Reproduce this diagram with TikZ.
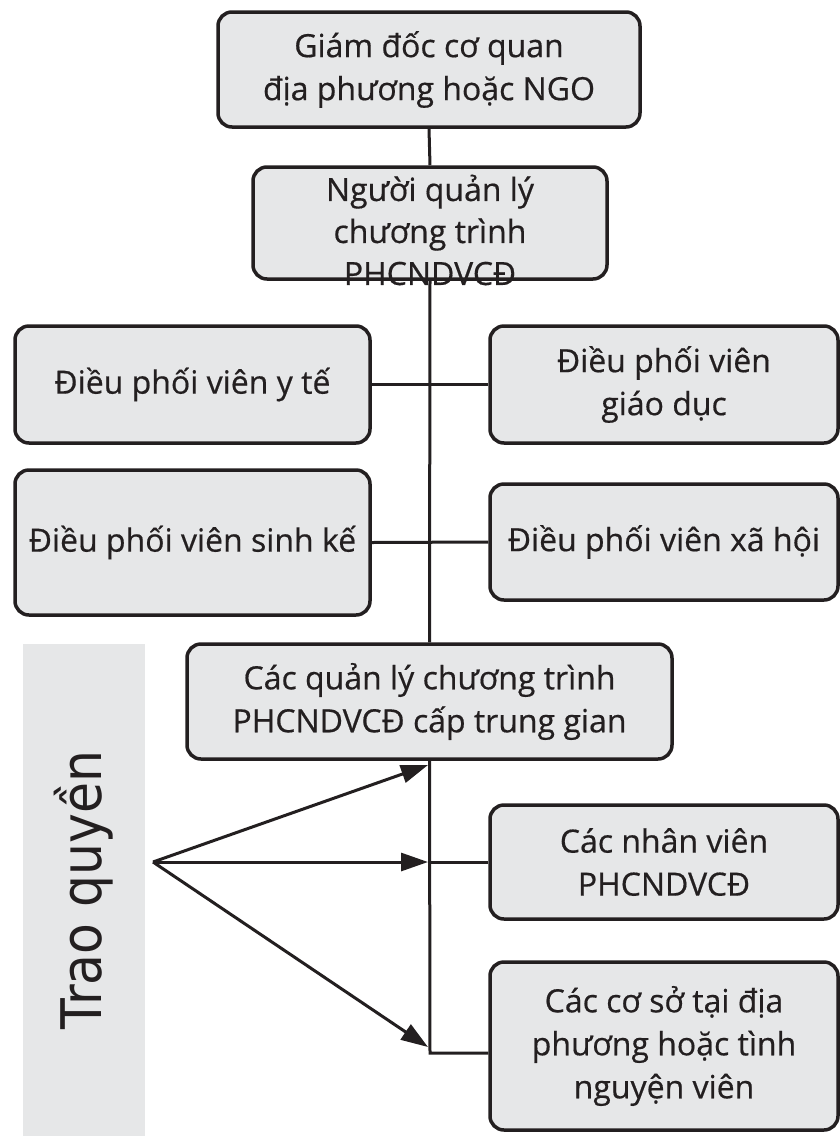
\documentclass[tikz,border=0pt]{standalone}
\usepackage{fontspec}
\setmainfont[FakeBold=0.5]{Open Sans}
\newfontfamily\sidefont[FakeStretch=0.9]{DejaVu Sans}
\usetikzlibrary{arrows.meta}
\definecolor{boxfill}{HTML}{E6E7E8}
\definecolor{ink}{HTML}{231F20}

\begin{document}
\begin{tikzpicture}[x=1pt,y=-1pt,
  box/.style={draw=ink, fill=boxfill, line width=3.5pt, rounded corners=14pt,
    inner sep=0pt, align=center, text=ink, font=\fontsize{32}{43}\selectfont},
  boxtext/.style={align=center, text=ink, inner sep=0pt, font=\fontsize{32}{42}\selectfont},
  link/.style={draw=ink, line width=3pt},
  push/.style={draw=ink, line width=3pt, -{Triangle[length=27pt,width=18pt]}}]

\useasboundingbox (0,0) rectangle (840,1136);

% shaded band on the left
\node (side) [fill=boxfill, inner sep=0pt, minimum width=122pt, minimum height=492pt] at (84,890) {};

% coordinates for the trunk and the arrows
\coordinate (corner) at (430,1053);
\coordinate (src) at (153,862);
\coordinate (tip1) at (428,765);
\coordinate (tip2) at (428,862);
\coordinate (tip3) at (428,1047);

% boxes
\path
  node (A)  [box, minimum width=422pt, minimum height=115pt] at (429,69.5)
        {Giám đốc cơ quan\\địa phương hoặc NGO}
  node (B)  [box, minimum width=354pt, minimum height=112pt] at (430,223) {}
  node (L1) [box, minimum width=355pt, minimum height=117pt] at (192.5,384.5)
        {Điều phối viên y tế}
  node (R1) [box, minimum width=348pt, minimum height=117pt] at (664,384.5)
        {Điều phối viên\\giáo dục}
  node (L2) [box, minimum width=355pt, minimum height=145pt] at (192.5,542.5)
        {Điều phối viên sinh kế}
  node (R2) [box, minimum width=348pt, minimum height=116pt] at (664,542)
        {Điều phối viên xã hội}
  node (M)  [box, minimum width=485pt, minimum height=115pt] at (429.5,701.5)
        {Các quản lý chương trình\\PHCNDVCĐ cấp trung gian}
  node (R3) [box, minimum width=348pt, minimum height=114pt] at (664,862)
        {Các nhân viên\\PHCNDVCĐ}
  node (R4) [box, minimum width=348pt, minimum height=168pt] at (664,1046)
        {Các cơ sở tại địa\\phương hoặc tình\\nguyện viên};

% connectors
\draw[link] (A.south) -- (B.north);
\draw[link] (B.south) -- (M.north);
\draw[link] (M.south) -- (corner) -- (corner -| R4.west);
\draw[link] (L1.east) -- (R1.west);
\draw[link] (L2.east) -- (R2.west);
\draw[link] (R3.west -| corner) -- (R3.west);

% text of the program manager box sits low and runs over its border
\node (Btext) [boxtext] at (430,230) {Người quản lý\\chương trình\\PHCNDVCĐ};

% delegation arrows
\draw[push] (src) -- (tip1);
\draw[push] (src) -- (tip2);
\draw[push] (src) -- (tip3);

\node (sidetext) [rotate=90, text=ink, inner sep=0pt, font=\sidefont\fontsize{56}{60}\selectfont]
  at (side.center) {Trao quyền};
\end{tikzpicture}
\end{document}
